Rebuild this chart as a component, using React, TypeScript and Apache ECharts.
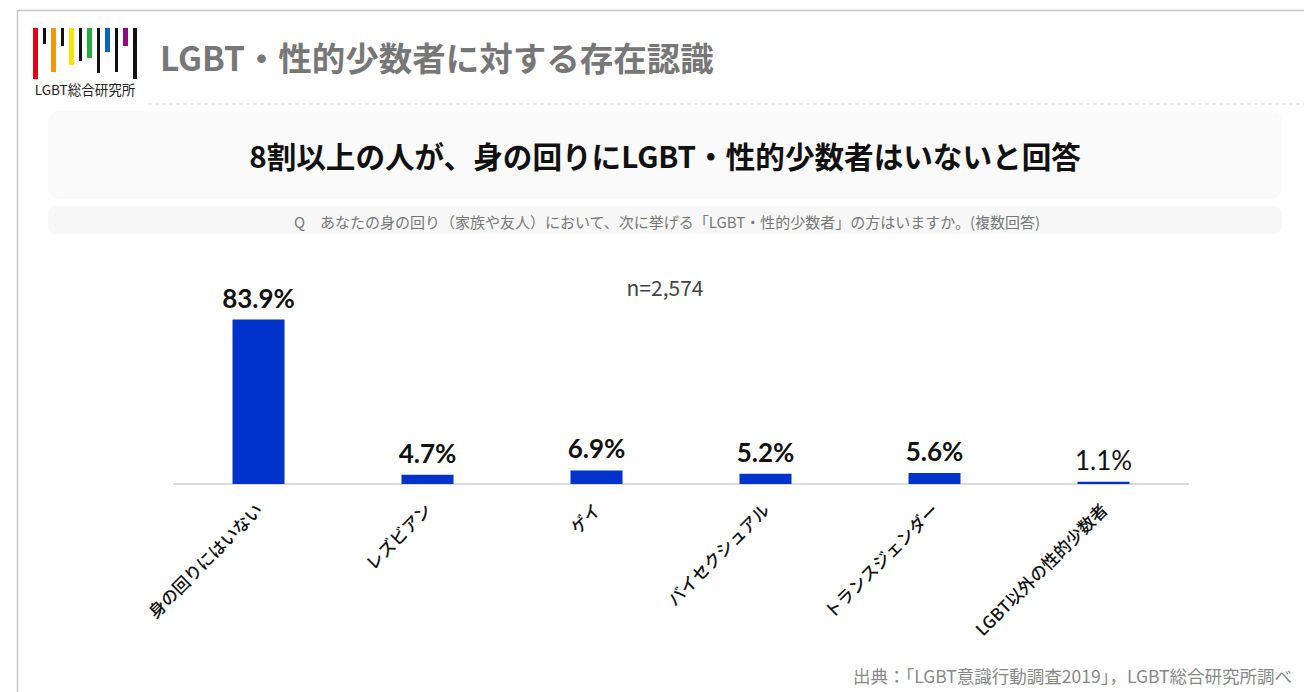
import React, { useEffect, useRef } from "react";
import * as echarts from "echarts";

const categories = [
  "身の回りにはいない",
  "レズビアン",
  "ゲイ",
  "バイセクシュアル",
  "トランスジェンダー",
  "LGBT以外の性的少数者",
];
const values = [83.9, 4.7, 6.9, 5.2, 5.6, 1.1];

const pageTitle = "LGBT・性的少数者に対する存在認識";
const headline = "8割以上の人が、身の回りにLGBT・性的少数者はいないと回答";
const question =
  "Q　あなたの身の回り（家族や友人）において、次に挙げる「LGBT・性的少数者」の方はいますか。(複数回答)";
const sampleNote = "n=2,574";
const sourceNote = "出典：「LGBT意識行動調査2019」，LGBT総合研究所調べ";
const logoLabel = "LGBT総合研究所";

const CJK = '"Noto Sans CJK JP", "Noto Sans", sans-serif';

export default function App() {
  const ref = useRef<HTMLDivElement>(null);

  useEffect(() => {
    if (!ref.current) return;
    const chart = echarts.init(ref.current, undefined, { renderer: "svg" });

    const stripes: [number, number, number, string][] = [
      [33, 5, 79, "#e60012"],
      [43, 3, 44, "#111111"],
      [51, 5, 72, "#f39800"],
      [61, 3, 46, "#111111"],
      [69, 5, 65, "#ffe100"],
      [79, 3, 61, "#111111"],
      [87, 5, 58, "#22ac38"],
      [97, 3, 73, "#111111"],
      [105, 5, 52, "#0068b7"],
      [115, 3, 72, "#111111"],
      [123, 5, 46, "#920783"],
      [133, 4, 79, "#111111"],
    ];

    const graphic: any[] = [
      { type: "line", shape: { x1: 17, y1: 10.5, x2: 1304, y2: 10.5 }, style: { stroke: "#c8c8c8", lineWidth: 1.5 }, silent: true },
      { type: "line", shape: { x1: 17.5, y1: 10, x2: 17.5, y2: 692 }, style: { stroke: "#c8c8c8", lineWidth: 1.5 }, silent: true },
      ...stripes.map(([x, w, b, c]) => ({
        type: "rect",
        shape: { x, y: 28, width: w, height: b - 28 },
        style: { fill: c },
        silent: true,
      })),
      {
        type: "text",
        x: 85,
        y: 89,
        style: {
          text: logoLabel,
          fill: "#222",
          font: `13.5px ${CJK}`,
          align: "center",
          verticalAlign: "middle",
        },
      },
      {
        type: "text",
        x: 160,
        y: 56,
        style: {
          text: pageTitle,
          fill: "#777777",
          font: `bold 33.5px ${CJK}`,
          align: "left",
          verticalAlign: "middle",
        },
      },
      {
        type: "line",
        shape: { x1: 148, y1: 104, x2: 1304, y2: 104 },
        style: { stroke: "#e6e6e6", lineWidth: 1.5, lineDash: [4, 3] },
        silent: true,
      },
      {
        type: "rect",
        shape: { x: 48, y: 111, width: 1234, height: 88, r: 12 },
        style: { fill: "#fafafa" },
        silent: true,
      },
      {
        type: "text",
        x: 665,
        y: 155,
        style: {
          text: headline,
          fill: "#111",
          font: `bold 29.6px ${CJK}`,
          align: "center",
          verticalAlign: "middle",
        },
      },
      {
        type: "rect",
        shape: { x: 48, y: 206, width: 1234, height: 28, r: 8 },
        style: { fill: "#f7f7f7" },
        silent: true,
      },
      {
        type: "text",
        x: 667,
        y: 221,
        style: {
          text: question,
          fill: "#777",
          font: `15px ${CJK}`,
          align: "center",
          verticalAlign: "middle",
        },
      },
      {
        type: "text",
        x: 665,
        y: 287,
        style: {
          text: sampleNote,
          fill: "#444",
          font: `21px ${CJK}`,
          align: "center",
          verticalAlign: "middle",
        },
      },
      {
        type: "text",
        x: 1292,
        y: 675,
        style: {
          text: sourceNote,
          fill: "#888",
          font: `17.5px ${CJK}`,
          align: "right",
          verticalAlign: "middle",
        },
      },
    ];

    chart.setOption({
      animation: false,
      backgroundColor: "#ffffff",
      grid: { left: 174, right: 116, top: 288, bottom: 208, containLabel: false },
      xAxis: {
        type: "category",
        data: categories,
        axisLine: { show: true, lineStyle: { color: "#dcdcdc", width: 2 } },
        axisTick: { show: false },
        axisLabel: {
          rotate: 45,
          margin: 22,
          color: "#111",
          fontSize: 17,
          fontWeight: 500,
          fontFamily: CJK,
          interval: 0,
        },
      },
      yAxis: {
        type: "value",
        min: 0,
        max: 100,
        show: false,
        splitLine: { show: false },
      },
      series: [
        {
          type: "bar",
          barWidth: 52,
          itemStyle: { color: "#0033cc" },
          data: values.map((v, i) =>
            i === values.length - 1
              ? { value: v, label: { fontWeight: "normal" } }
              : v
          ),
          label: {
            show: true,
            position: "top",
            distance: 9,
            formatter: (p: any) => `${p.value}%`,
            color: "#111",
            fontSize: 26,
            fontWeight: "bold",
            fontFamily: "Lato, sans-serif",
          },
        },
      ],
      graphic,
    });

    return () => chart.dispose();
  }, []);

  return (
    <div
      ref={ref}
      style={{ position: "absolute", left: 0, top: 0, width: 1304, height: 692 }}
    />
  );
}
